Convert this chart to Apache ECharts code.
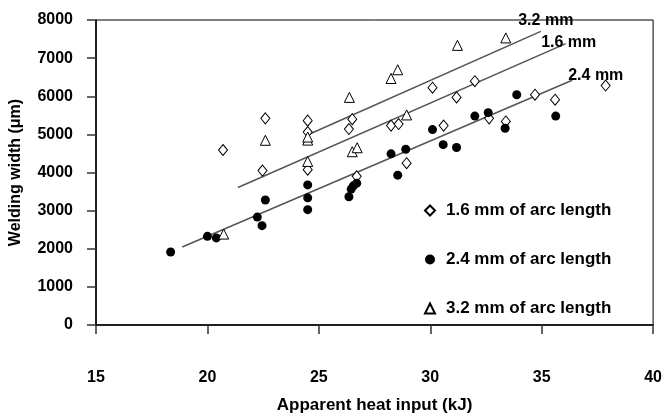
<!DOCTYPE html>
<html><head><meta charset="utf-8">
<script src="https://cdn.jsdelivr.net/npm/echarts@6/dist/echarts.min.js"></script>
<style>html,body{margin:0;padding:0;background:#fff}#c{width:665px;height:419px}</style>
</head><body><div id="c"></div>
<script>
// ---- data ----
const xTicks = [15, 20, 25, 30, 35, 40];
const yTicks = [0, 1000, 2000, 3000, 4000, 5000, 6000, 7000, 8000];
const xTitle = 'Apparent heat input (kJ)';
const yTitle = 'Welding width (\u03bcm)';
const seriesNames = ['1.6 mm of arc length', '2.4 mm of arc length', '3.2 mm of arc length'];
const arc16 = [[20.7,4590],[22.6,5420],[22.47,4050],[24.5,5360],[24.5,5060],[24.5,4075],[26.5,5400],[26.35,5140],[26.7,3900],[28.24,5230],[28.58,5270],[28.94,4245],[30.1,6225],[30.6,5230],[31.18,5970],[32.0,6395],[32.64,5420],[33.39,5340],[34.7,6040],[35.6,5910],[37.87,6280]];
const arc24 = [[18.35,1915],[20.0,2325],[20.4,2285],[22.24,2830],[22.45,2605],[22.6,3280],[24.5,3675],[24.5,3335],[24.5,3025],[26.35,3365],[26.45,3565],[26.55,3650],[26.7,3720],[28.24,4490],[28.54,3930],[28.9,4610],[30.1,5125],[30.58,4730],[31.18,4655],[32.0,5480],[32.6,5570],[33.36,5160],[33.88,6040],[35.63,5480]];
const arc32 = [[20.73,2385],[22.6,4845],[24.5,4850],[24.5,4930],[24.5,4290],[26.37,5970],[26.5,4545],[26.72,4650],[28.24,6465],[28.54,6695],[28.94,5510],[31.22,7335],[33.39,7530]];
const fit16 = [[21.37,3605],[36.08,7380]];
const fit24 = [[18.87,2045],[36.37,6420]];
const fit32 = [[24.59,5010],[34.96,7700]];
const fitLabels = ['1.6 mm', '2.4 mm', '3.2 mm'];

const FONT = "'Liberation Sans', Arial, sans-serif";
const txt = {fontFamily: FONT, fontWeight: 'bold', color: '#000'};

function fitSeries(data, label, lab) {
  const d = data.map((p, i) => i === data.length - 1
    ? {value: p, label: Object.assign({show: true, formatter: label, fontSize: 16}, txt, lab)}
    : {value: p});
  return {type: 'line', data: d, symbol: 'circle', symbolSize: 0, showSymbol: true, silent: true, z: 1,
    itemStyle: {color: '#555'},
    lineStyle: {color: '#555', width: 1.5}, label: {show: false}};
}

const chart = echarts.init(document.getElementById('c'), null, {renderer: 'canvas'});
chart.setOption({
  animation: false,
  backgroundColor: '#fff',
  grid: {left: 96, right: 11, top: 20, bottom: 86.5, show: true, borderColor: '#000', borderWidth: 1, backgroundColor: 'transparent'},
  xAxis: {
    type: 'value', min: xTicks[0], max: xTicks[xTicks.length - 1], interval: 5,
    name: xTitle, nameLocation: 'middle', nameGap: 72,
    nameTextStyle: Object.assign({fontSize: 17}, txt),
    axisLine: {show: true, lineStyle: {color: '#000', width: 1.5}},
    axisTick: {show: true, inside: false, length: 9, lineStyle: {color: '#333', width: 1.5}},
    axisLabel: Object.assign({fontSize: 16, margin: 45, formatter: v => String(v)}, txt),
    splitLine: {show: false}
  },
  yAxis: {
    type: 'value', min: yTicks[0], max: yTicks[yTicks.length - 1], interval: 1000,
    name: yTitle, nameLocation: 'middle', nameGap: 72, nameRotate: 90,
    nameTextStyle: Object.assign({fontSize: 16}, txt),
    axisLine: {show: true, lineStyle: {color: '#000', width: 1.5}},
    axisTick: {show: true, inside: false, length: 9, lineStyle: {color: '#333', width: 1.5}},
    axisLabel: Object.assign({fontSize: 16, margin: 23, formatter: v => String(v)}, txt),
    splitLine: {show: false}
  },
  legend: {
    show: true, orient: 'vertical', left: 419, top: 197, itemGap: 32,
    itemWidth: 10, itemHeight: 10,
    textStyle: Object.assign({fontSize: 17, padding: [0, 0, 0, 6]}, txt),
    data: [
      {name: seriesNames[0], icon: 'diamond'},
      {name: seriesNames[1], icon: 'circle'},
      {name: seriesNames[2], icon: 'triangle'}
    ]
  },
  series: [
    fitSeries(fit16, fitLabels[0], {position: 'inside', offset: [3, -1]}),
    fitSeries(fit24, fitLabels[1], {position: 'right', offset: [-9, -5]}),
    fitSeries(fit32, fitLabels[2], {position: 'top', offset: [5, 2]}),
    {type: 'scatter', name: seriesNames[0], data: arc16, symbol: 'diamond', symbolSize: [9, 11], z: 3,
      itemStyle: {color: '#fff', borderColor: '#000', borderWidth: 1, opacity: 1}},
    {type: 'scatter', name: seriesNames[1], data: arc24, symbol: 'circle', symbolSize: 9, z: 3,
      itemStyle: {color: '#000', borderColor: '#000', borderWidth: 0, opacity: 1}},
    {type: 'scatter', name: seriesNames[2], data: arc32, symbol: 'triangle', symbolSize: [10, 10], z: 3,
      itemStyle: {color: '#fff', borderColor: '#000', borderWidth: 1, opacity: 1}}
  ]
});
</script></body></html>
